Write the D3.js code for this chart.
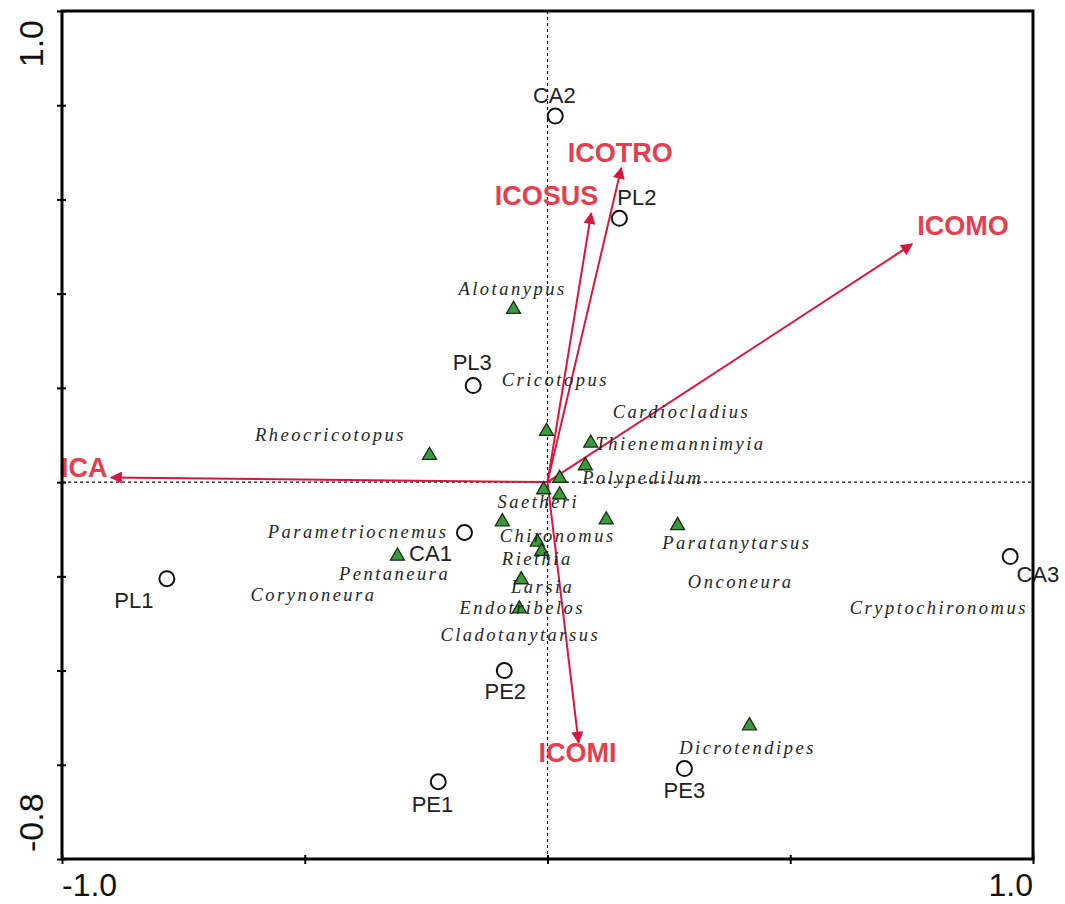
<!DOCTYPE html>
<html>
<head>
<meta charset="utf-8">
<script src="https://cdn.jsdelivr.net/npm/d3@7"></script>
<style>
  body { margin: 0; background: #fff; }
  svg { display: block; }
</style>
</head>
<body>
<script>
// site scores (open circles)
var siteNames = ['CA1', 'CA2', 'CA3', 'PL1', 'PL2', 'PL3', 'PE1', 'PE2', 'PE3'];
var siteX = [-0.171, 0.016, 0.953, -0.784, 0.148, -0.153, -0.225, -0.089, 0.282];
var siteY = [-0.107, 0.777, -0.158, -0.205, 0.560, 0.205, -0.636, -0.400, -0.608];
var siteLabelX = [-0.241, 0.014, 1.010, -0.852, 0.184, -0.155, -0.237, -0.087, 0.282];
var siteLabelY = [-0.150, 0.821, -0.196, -0.250, 0.605, 0.254, -0.683, -0.443, -0.653];

// species scores (triangles)
var speciesX = [-0.070, -0.002, -0.243, 0.089, 0.078, 0.025, -0.008, 0.025, -0.093,
    0.121, 0.268, -0.021, -0.012, -0.309, -0.054, -0.058, 0.416];
var speciesY = [0.369, 0.110, 0.059, 0.085, 0.037, 0.010, -0.014, -0.025, -0.082,
    -0.078, -0.090, -0.125, -0.145, -0.155, -0.205, -0.267, -0.515];

// species names and where their labels sit
var speciesNames = ['Alotanypus', 'Cricotopus', 'Cardiocladius', 'Rheocricotopus',
    'Thienemannimyia', 'Polypedilum', 'Saetheri', 'Parametriocnemus', 'Chironomus',
    'Paratanytarsus', 'Riethia', 'Pentaneura', 'Larsia', 'Corynoneura', 'Onconeura',
    'Endotribelos', 'Cryptochironomus', 'Cladotanytarsus', 'Dicrotendipes'];
var speciesLabelX = [-0.072, 0.016, 0.276, -0.447, 0.274, 0.196, -0.019, -0.390, 0.021,
    0.390, -0.021, -0.315, -0.010, -0.482, 0.398, -0.052, 0.806, -0.056, 0.412];
var speciesLabelY = [0.411, 0.216, 0.150, 0.101, 0.082, 0.008, -0.043, -0.105, -0.115,
    -0.130, -0.162, -0.194, -0.222, -0.239, -0.211, -0.268, -0.268, -0.324, -0.564];

// environmental variables (arrows)
var envNames = ['ICA', 'ICOTRO', 'ICOSUS', 'ICOMO', 'ICOMI'];
var envX = [-0.899, 0.152, 0.090, 0.751, 0.064];
var envY = [0.010, 0.667, 0.571, 0.505, -0.553];
var envLabelX = [-0.954, 0.150, -0.002, 0.856, 0.062];
var envLabelY = [0.031, 0.700, 0.609, 0.545, -0.573];

var xTicks = [-1.0, -0.5, 0, 0.5, 1.0];
var yTicks = [-0.8, -0.6, -0.4, -0.2, 0, 0.2, 0.4, 0.6, 0.8, 1.0];
var xEndLabels = ['-1.0', '1.0'];
var yEndLabels = ['-0.8', '1.0'];

var width = 1065, height = 904;
var margin = { top: 11, right: 32, bottom: 45, left: 62 };

var red = '#d6163e', redText = '#e2404f';

var svg = d3.select('body').append('svg')
    .attr('width', width)
    .attr('height', height);

var x = d3.scaleLinear().domain([-1, 1]).range([margin.left, width - margin.right]);
var y = d3.scaleLinear().domain([-0.8, 1]).range([height - margin.bottom, margin.top]);

svg.append('defs').append('marker')
    .attr('id', 'head')
    .attr('viewBox', '0 -5 10 10')
    .attr('refX', 9)
    .attr('refY', 0)
    .attr('markerUnits', 'userSpaceOnUse')
    .attr('markerWidth', 17)
    .attr('markerHeight', 12)
    .attr('orient', 'auto')
    .append('path')
    .attr('d', 'M0,-5L10,0L0,5Z')
    .attr('fill', red);

// dashed zero lines
svg.append('line')
    .attr('x1', x(0)).attr('x2', x(0))
    .attr('y1', y(1)).attr('y2', y(-0.8))
    .attr('stroke', '#111').attr('stroke-width', 1.2)
    .attr('stroke-dasharray', '3,3');
svg.append('line')
    .attr('x1', x(-1)).attr('x2', x(1))
    .attr('y1', y(0)).attr('y2', y(0))
    .attr('stroke', '#111').attr('stroke-width', 1.2)
    .attr('stroke-dasharray', '3,3');

// arrows
var env = envNames.map(function (n, i) {
    return { name: n, x: envX[i], y: envY[i], lx: envLabelX[i], ly: envLabelY[i] };
});
svg.selectAll('line.env').data(env).enter()
    .append('line')
    .classed('env', true)
    .attr('x1', x(0)).attr('y1', y(0))
    .attr('x2', function (d) { return x(d.x); })
    .attr('y2', function (d) { return y(d.y); })
    .attr('stroke', red)
    .attr('stroke-width', 2)
    .attr('marker-end', 'url(#head)');

// species triangles
var species = speciesX.map(function (v, i) { return { x: v, y: speciesY[i] }; });
svg.selectAll('path.sp').data(species).enter()
    .append('path')
    .classed('sp', true)
    .attr('d', d3.symbol().type(d3.symbolTriangle).size(85))
    .attr('transform', function (d) { return 'translate(' + x(d.x) + ',' + (y(d.y) + 1) + ')'; })
    .attr('fill', '#3a9b3a')
    .attr('stroke', '#1c2a1c')
    .attr('stroke-width', 1.3);

// species labels
svg.selectAll('text.sp').data(speciesNames).enter()
    .append('text')
    .classed('sp', true)
    .attr('x', function (d, i) { return x(speciesLabelX[i]); })
    .attr('y', function (d, i) { return y(speciesLabelY[i]); })
    .attr('dy', '0.33em')
    .attr('text-anchor', 'middle')
    .attr('font-family', 'Liberation Serif, Times New Roman, serif')
    .attr('font-style', 'italic')
    .attr('font-size', 18.5)
    .attr('letter-spacing', 2.5)
    .attr('fill', '#262626')
    .text(function (d) { return d; });

// sites
var sites = siteNames.map(function (n, i) {
    return { name: n, x: siteX[i], y: siteY[i], lx: siteLabelX[i], ly: siteLabelY[i] };
});
svg.selectAll('circle.site').data(sites).enter()
    .append('circle')
    .classed('site', true)
    .attr('cx', function (d) { return x(d.x); })
    .attr('cy', function (d) { return y(d.y); })
    .attr('r', 7.5)
    .attr('fill', 'none')
    .attr('stroke', '#111')
    .attr('stroke-width', 2);
svg.selectAll('text.site').data(sites).enter()
    .append('text')
    .classed('site', true)
    .attr('x', function (d) { return x(d.lx); })
    .attr('y', function (d) { return y(d.ly); })
    .attr('dy', '0.36em')
    .attr('text-anchor', 'middle')
    .attr('font-family', 'Liberation Sans, Arial, sans-serif')
    .attr('font-size', 22)
    .attr('fill', '#222')
    .text(function (d) { return d.name; });

// arrow labels
svg.selectAll('text.env').data(env).enter()
    .append('text')
    .classed('env', true)
    .attr('x', function (d) { return x(d.lx); })
    .attr('y', function (d) { return y(d.ly); })
    .attr('dy', '0.36em')
    .attr('text-anchor', 'middle')
    .attr('font-family', 'Liberation Sans, Arial, sans-serif')
    .attr('font-weight', 'bold')
    .attr('font-size', 27)
    .attr('fill', redText)
    .text(function (d) { return d.name; });

// frame
svg.append('rect')
    .attr('x', x(-1)).attr('y', y(1))
    .attr('width', x(1) - x(-1)).attr('height', y(-0.8) - y(1))
    .attr('fill', 'none')
    .attr('stroke', '#000')
    .attr('stroke-width', 3);

// axes
var xAxis = svg.append('g')
    .attr('transform', 'translate(0,' + y(-0.8) + ')')
    .call(d3.axisBottom(x).tickValues(xTicks).tickSize(5).tickFormat(''));
var yAxis = svg.append('g')
    .attr('transform', 'translate(' + x(-1) + ',0)')
    .call(d3.axisLeft(y).tickValues(yTicks).tickSize(5).tickFormat(''));
[xAxis, yAxis].forEach(function (a) {
    a.select('.domain').remove();
    a.selectAll('.tick line').attr('stroke', '#000').attr('stroke-width', 2);
});
xAxis.selectAll('.tick line').attr('y1', -4);
yAxis.selectAll('.tick line').attr('x1', 4);

// end labels only
function styled(t, size) {
    return t.attr('font-family', 'Liberation Sans, Arial, sans-serif')
        .attr('font-size', size)
        .attr('fill', '#111');
}
styled(svg.append('text'), 32)
    .attr('x', x(-1)).attr('y', 896)
    .attr('text-anchor', 'start')
    .text(xEndLabels[0]);
styled(svg.append('text'), 32)
    .attr('x', x(1)).attr('y', 896)
    .attr('text-anchor', 'end')
    .text(xEndLabels[1]);
styled(svg.append('text'), 34)
    .attr('transform', 'translate(43,' + (y(1) + 9) + ') rotate(-90)')
    .attr('text-anchor', 'end')
    .text(yEndLabels[1]);
styled(svg.append('text'), 34)
    .attr('transform', 'translate(43,' + (y(-0.8) - 7) + ') rotate(-90)')
    .attr('text-anchor', 'start')
    .text(yEndLabels[0]);
</script>
</body>
</html>
